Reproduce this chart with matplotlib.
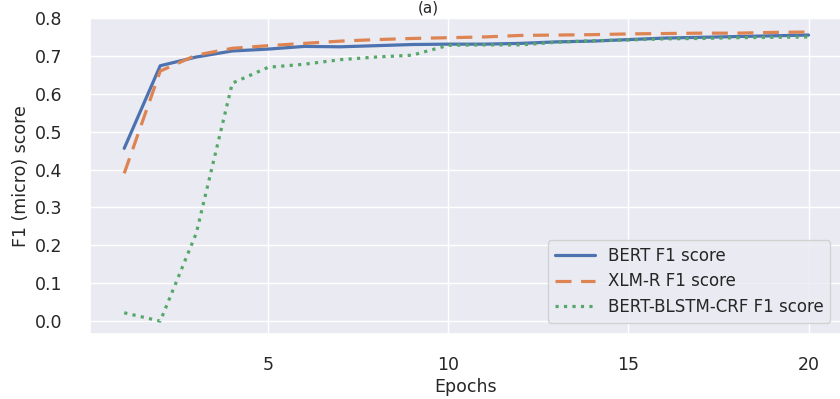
import matplotlib
matplotlib.use("Agg")
import matplotlib.pyplot as plt
import seaborn as sns

epochs = list(range(1, 21))
bert = [0.456, 0.674, 0.697, 0.713, 0.718, 0.725, 0.724, 0.727, 0.730, 0.731,
        0.731, 0.733, 0.737, 0.739, 0.743, 0.747, 0.749, 0.751, 0.753, 0.755]
xlmr = [0.390, 0.660, 0.702, 0.720, 0.727, 0.733, 0.739, 0.743, 0.746, 0.748,
        0.750, 0.754, 0.755, 0.756, 0.758, 0.759, 0.760, 0.760, 0.762, 0.763]
crf = [0.022, 0.000, 0.232, 0.628, 0.670, 0.678, 0.690, 0.697, 0.702, 0.728,
       0.729, 0.729, 0.736, 0.740, 0.742, 0.745, 0.746, 0.748, 0.749, 0.750]
labels = ["BERT F1 score", "XLM-R F1 score", "BERT-BLSTM-CRF F1 score"]

sns.set_theme(style="darkgrid")
plt.rcParams['font.family'] = ['DejaVu Sans']

fig = plt.figure(figsize=(8.4, 3.99), dpi=100)
ax = fig.add_axes([90/840, 1-334/399, (841-90)/840, (334-18)/399])

pal = sns.color_palette("deep")
ax.plot(epochs, bert, color=pal[0], lw=2.3, ls='-', label=labels[0])
ax.plot(epochs, xlmr, color=pal[1], lw=2.3, ls='--', dashes=(5, 3), label=labels[1])
ax.plot(epochs, crf, color=pal[2], lw=2.3, ls=':', label=labels[2])

ax.set_xlim(0.05, 20.9)
ax.set_ylim(-0.034, 0.8)
ax.set_xticks([5, 10, 15, 20])
ax.set_yticks([0.0, 0.1, 0.2, 0.3, 0.4, 0.5, 0.6, 0.7, 0.8])
ax.tick_params(axis='both', labelsize=12.5, colors='#262626')
ax.tick_params(axis='x', pad=10)
ax.tick_params(axis='y', pad=14)
ax.set_xlabel("Epochs", fontsize=12.5, color='#262626', labelpad=3)
ax.set_ylabel("F1 (micro) score", fontsize=12.5, color='#262626', labelpad=3)
ax.legend(loc='lower right', fontsize=12, frameon=True, handlelength=2.4,
          labelspacing=0.45, bbox_to_anchor=(0.997, 0.01))

fig.text(428/840, 1 - 8/399, "(a)", ha='center', va='center', fontsize=11, color='#262626')

fig.savefig("out.png", dpi=100)
